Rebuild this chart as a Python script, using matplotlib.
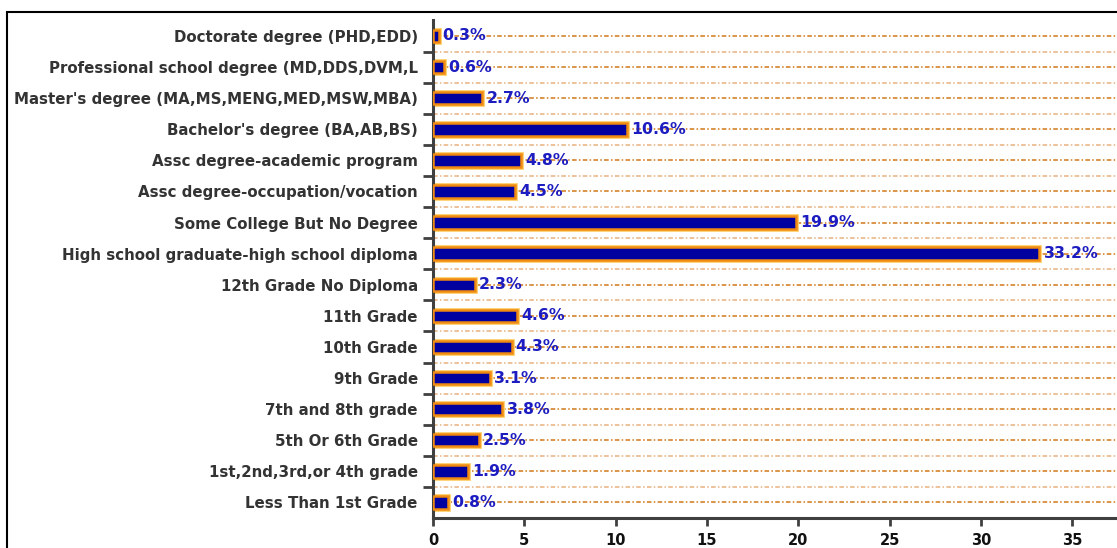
import numpy as np
import matplotlib.pyplot as plt
from matplotlib.patches import Rectangle

plt.rcParams['font.family'] = ['DejaVu Sans']

# 학력 범주 (위에서 아래 순서)
categories = [
    "Doctorate degree (PHD,EDD)",
    "Professional school degree (MD,DDS,DVM,L",
    "Master's degree (MA,MS,MENG,MED,MSW,MBA)",
    "Bachelor's degree (BA,AB,BS)",
    "Assc degree-academic program",
    "Assc degree-occupation/vocation",
    "Some College But No Degree",
    "High school graduate-high school diploma",
    "12th Grade No Diploma",
    "11th Grade",
    "10th Grade",
    "9th Grade",
    "7th and 8th grade",
    "5th Or 6th Grade",
    "1st,2nd,3rd,or 4th grade",
    "Less Than 1st Grade",
]
values = [0.3, 0.6, 2.7, 10.6, 4.8, 4.5, 19.9, 33.2, 2.3, 4.6, 4.3, 3.1, 3.8, 2.5, 1.9, 0.8]
xticks = [0, 5, 10, 15, 20, 25, 30, 35]

fig = plt.figure(figsize=(11.17, 5.48), dpi=100)
ax = fig.add_axes([0.3877, 0.0547, 0.6123, 0.908])

n = len(categories)
y = np.arange(n)[::-1]

# 격자선 (범주 중앙 + 경계)
for yy in y:
    ax.axhline(yy, color='#d07818', lw=1.1, ls=(0, (3, 1.5, 1, 1.5)), zorder=0)
for yy in np.arange(n - 1) + 0.5:
    ax.axhline(yy, color='#e2a468', lw=1.1, ls=(0, (3, 1.5, 1, 1.5)), zorder=0, alpha=0.85)

# 막대: 노란 외곽 + 주황 테두리 + 남색 채움
ax.barh(y, values, height=0.40, color='none', edgecolor='#ffd070', lw=3.5, zorder=2)
ax.barh(y, values, height=0.40, color='#0000a0', edgecolor='#f08a10', lw=1.8, zorder=3)

for yy, v in zip(y, values):
    ax.annotate(f"{v}%", (v, yy), xytext=(3, 0), textcoords='offset points',
                va='center', ha='left', color='#1c1cc0', fontsize=11.3,
                fontweight='bold', zorder=4)

ax.set_xlim(0, 37.45)
ax.set_ylim(-0.5, n - 0.5)
ax.set_xticks(xticks)
ax.set_xticklabels([str(t) for t in xticks], fontsize=10.5, fontweight='bold', color='#111111')
ax.set_yticks(y)
ax.set_yticklabels(categories, fontsize=10.8, fontweight='bold', color='#333333')
ax.set_yticks(np.arange(n - 1) + 0.5, minor=True)
ax.tick_params(axis='y', which='major', length=0, pad=11)
ax.tick_params(axis='y', which='minor', length=7, width=2, color='#404040', direction='out')
ax.tick_params(axis='x', length=6, width=2, color='#404040', pad=5)

for s in ['top', 'right']:
    ax.spines[s].set_visible(False)
for s in ['left', 'bottom']:
    ax.spines[s].set_linewidth(2.2)
    ax.spines[s].set_color('#404040')

# 바깥 테두리
fig.patches.append(Rectangle((7 / 1117, -0.1), 1.2, 1 - 12 / 548 + 0.1, transform=fig.transFigure,
                             fill=False, edgecolor='black', lw=1.5))

fig.savefig('out.png', dpi=100)
